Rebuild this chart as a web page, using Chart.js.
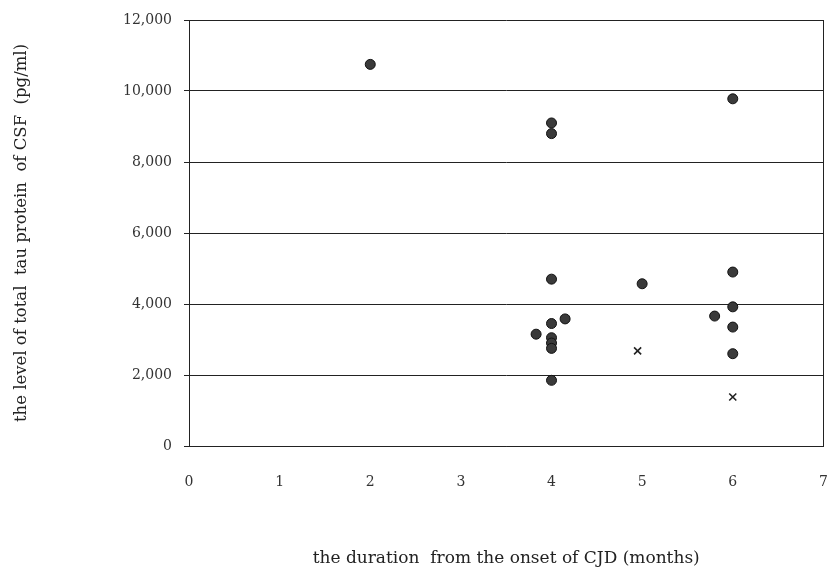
<!DOCTYPE html>
<html>
<head>
<meta charset="utf-8">
<script src="https://cdn.jsdelivr.net/npm/chart.js@4/dist/chart.umd.min.js"></script>
<style>
html,body{margin:0;padding:0;background:#fff;}
#wrap{width:830px;height:569px;position:relative;}
</style>
</head>
<body>
<div id="wrap"><canvas id="c" width="830" height="569"></canvas></div>
<script>
// duration (months) and tau level (pg/ml) for each patient
const circleMonths = [2, 4, 4, 6, 4, 5, 6, 4.15, 4, 3.83, 4, 4, 4, 4, 6, 5.8, 6, 6];
const circleTau    = [10750, 9100, 8800, 9780, 4700, 4570, 4900, 3580, 3450, 3150, 3050, 2900, 2750, 1850, 3920, 3660, 3350, 2600];
const crossMonths  = [4.95, 6];
const crossTau     = [2680, 1380];
const xTicks = [0, 1, 2, 3, 4, 5, 6, 7];
const yTicks = [0, 2000, 4000, 6000, 8000, 10000, 12000];
const xTitle = 'the duration  from the onset of CJD (months)';
const yTitle = 'the level of total  tau protein  of CSF  (pg/ml)';

const toPts = (xs, ys) => xs.map((x, i) => ({x: x, y: ys[i]}));
const fnt = 'DejaVu Serif';

new Chart(document.getElementById('c'), {
  type: 'scatter',
  data: {
    datasets: [
      {
        data: toPts(circleMonths, circleTau),
        pointStyle: 'circle',
        pointRadius: 5,
        pointBackgroundColor: '#3a3a3a',
        pointBorderColor: '#111',
        pointBorderWidth: 1
      },
      {
        data: toPts(crossMonths, crossTau),
        pointStyle: 'crossRot',
        pointRadius: 5,
        pointBorderColor: '#222',
        pointBorderWidth: 1.6
      }
    ]
  },
  options: {
    responsive: false,
    animation: false,
    layout: {padding: {top: 20, right: 4, bottom: 0, left: 0}},
    plugins: {legend: {display: false}, tooltip: {enabled: false}},
    scales: {
      x: {
        type: 'linear',
        min: 0, max: 7,
        afterBuildTicks: s => { s.ticks = xTicks.map(v => ({value: v})); },
        afterFit: s => { s.height = 123; s.paddingRight = 0; s.paddingLeft = 0; },
        ticks: {color: '#333', font: {family: fnt, size: 14}, padding: 28,
                callback: v => String(v)},
        grid: {
          color: c => (c.tick && (c.tick.value === 7)) ? '#222' : 'rgba(0,0,0,0)',
          drawTicks: false,
          lineWidth: 1
        },
        border: {display: true, color: '#222', width: 1},
        title: {display: true, text: xTitle, color: '#222',
                font: {family: fnt, size: 17}, padding: {top: 0, bottom: 0}}
      },
      y: {
        type: 'linear',
        min: 0, max: 12000,
        afterBuildTicks: s => { s.ticks = yTicks.map(v => ({value: v})); },
        afterFit: s => { s.width = 189; s.paddingTop = 0; s.paddingBottom = 0; },
        ticks: {color: '#333', font: {family: fnt, size: 14}, padding: 12,
                callback: v => v.toLocaleString('en-US')},
        grid: {color: '#222', lineWidth: 1, tickLength: 5, drawTicks: true},
        border: {display: true, color: '#222', width: 1},
        title: {display: true, text: yTitle, color: '#222',
                font: {family: fnt, size: 16.5}, padding: {top: 12, bottom: 0}}
      }
    }
  }
});
</script>
</body>
</html>
